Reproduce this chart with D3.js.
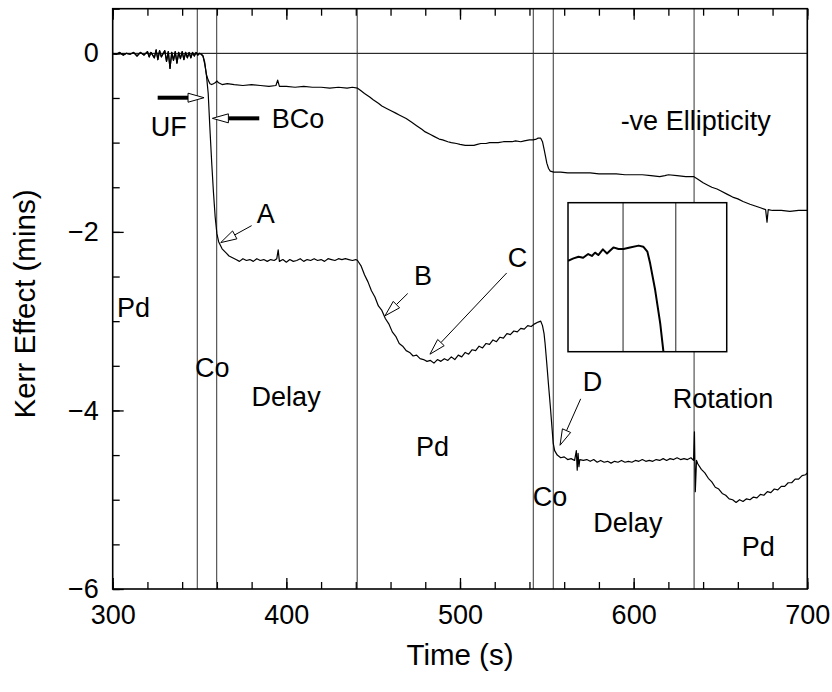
<!DOCTYPE html>
<html>
<head>
<meta charset="utf-8">
<script src="https://cdn.jsdelivr.net/npm/d3@7"></script>
<style>
  body { margin: 0; background: #fff; }
  text { font-family: "Liberation Sans", Arial, Helvetica, sans-serif; }
</style>
</head>
<body>
<script>
// ---- data (time s, Kerr effect mins) ----
var preStep = [[300,0.00],[302,-0.01],[304,0.01],[306,-0.02],[308,0.00],[310,-0.01],[312,0.01],[314,-0.03],
  [316,0.01],[318,-0.02],[320,0.02],[321,-0.04],[322,0.01],[324,-0.05],[325,0.04],[326,-0.07],[327,0.03],
  [328,-0.04],[330,0.03],[331,-0.09],[332,0.02],[333,-0.17],[334,0.01],[335,-0.08],[336,0.02],[337,-0.11],
  [338,0.01],[339,-0.06],[340,0.02],[341,-0.07],[342,0.01],[343,-0.05],[344,0.01],[345,-0.05],[346,0.01],
  [347,-0.03],[348,0.01],[349,-0.02],[350,0.00],[351,-0.01],[352,-0.03]];

var ellipticity = [[353,-0.12],[354,-0.24],[355,-0.30],[356,-0.34],[357,-0.35],[358,-0.34],[359,-0.33],
  [360,-0.31],[361,-0.33],[363,-0.35],[366,-0.34],[370,-0.35],[375,-0.36],[380,-0.35],[385,-0.36],[390,-0.37],
  [394,-0.36],[395,-0.30],[396,-0.37],[400,-0.37],[405,-0.38],[410,-0.37],[415,-0.38],[420,-0.38],[425,-0.39],
  [430,-0.38],[435,-0.39],[438,-0.38],[441,-0.39],[443,-0.42],[445,-0.45],[448,-0.49],[450,-0.52],[453,-0.56],
  [455,-0.59],[458,-0.62],[460,-0.64],[463,-0.67],[465,-0.69],[469,-0.73],[472,-0.77],[475,-0.81],[478,-0.85],
  [480,-0.88],[483,-0.91],[485,-0.93],[488,-0.96],[490,-0.97],[493,-0.99],[495,-1.00],[498,-1.01],[500,-1.02],
  [503,-1.03],[505,-1.03],[508,-1.03],[510,-1.02],[512,-1.01],[515,-1.01],[517,-1.00],[520,-1.00],[522,-1.00],
  [525,-0.99],[527,-0.99],[530,-0.99],[532,-0.98],[535,-0.99],[537,-0.98],[540,-0.97],[542,-0.97],[544,-0.96],
  [545,-0.95],[546.5,-0.95],[547.5,-0.99],[548.5,-1.08],[549.3,-1.16],[550,-1.23],[551,-1.29],[552,-1.32],
  [554,-1.33],[558,-1.33],[562,-1.34],[565,-1.34],[570,-1.34],[575,-1.34],[580,-1.35],[585,-1.35],[590,-1.35],
  [595,-1.36],[600,-1.36],[605,-1.36],[610,-1.37],[615,-1.38],[618,-1.37],[620,-1.36],[625,-1.37],[630,-1.38],
  [634.5,-1.38],[637,-1.41],[640,-1.45],[643,-1.48],[645,-1.50],[648,-1.52],[650,-1.54],[654,-1.58],[657,-1.61],
  [660,-1.63],[663,-1.66],[667,-1.69],[670,-1.71],[673,-1.73],[676,-1.75],[676.8,-1.89],[677.5,-1.75],
  [680,-1.76],[685,-1.76],[690,-1.77],[695,-1.76],[700,-1.76]];

var rotation = [[353,-0.10],[354,-0.25],[355,-0.45],[356,-0.85],[357,-1.22],[358,-1.55],[359,-1.83],
  [360,-2.02],[361,-2.11],[362,-2.15],[363,-2.19],[365,-2.23],[367,-2.27],[369,-2.29],[371,-2.31],[373,-2.33],
  [375,-2.30],[377,-2.32],[379,-2.31],[381,-2.33],[383,-2.30],[385,-2.32],[387,-2.31],[389,-2.33],[391,-2.31],
  [393,-2.32],[394.5,-2.30],[395.3,-2.20],[396,-2.33],[398,-2.31],[400,-2.34],[402,-2.31],[404,-2.33],
  [406,-2.32],[408,-2.30],[410,-2.33],[412,-2.31],[414,-2.32],[416,-2.30],[418,-2.32],[420,-2.31],[422,-2.33],
  [424,-2.30],[426,-2.31],[428,-2.32],[430,-2.30],[432,-2.31],[434,-2.30],[436,-2.31],[438,-2.32],[440,-2.31],
  [441,-2.32],[443,-2.38],[445,-2.48],[447,-2.56],[449,-2.66],[451,-2.73],[453,-2.83],[455,-2.88],[457,-2.97],
  [459,-3.03],[461,-3.12],[463,-3.17],[465,-3.25],[467,-3.28],[469,-3.33],[471,-3.35],[473,-3.39],[475,-3.38],
  [477,-3.42],[479,-3.43],[481,-3.45],[483,-3.44],[485,-3.47],[487,-3.43],[489,-3.45],[491,-3.42],[493,-3.44],
  [495,-3.40],[497,-3.43],[499,-3.38],[501,-3.40],[503,-3.35],[505,-3.37],[507,-3.32],[509,-3.33],[511,-3.28],
  [513,-3.30],[515,-3.25],[517,-3.26],[519,-3.21],[521,-3.23],[523,-3.18],[525,-3.19],[527,-3.14],[529,-3.15],
  [531,-3.11],[533,-3.12],[535,-3.08],[537,-3.09],[539,-3.05],[541,-3.06],[543,-3.03],[545,-3.01],[546.5,-3.00],
  [547.5,-3.05],[548.4,-3.14],[549,-3.25],[550,-3.48],[551,-3.72],[552,-3.95],[553,-4.20],[553.7,-4.37],
  [554.5,-4.45],[556,-4.50],[558,-4.53],[560,-4.52],[562,-4.55],[564,-4.54],[566,-4.56],[567,-4.45],
  [567.5,-4.67],[568,-4.48],[568.5,-4.63],[569,-4.55],[571,-4.56],[573,-4.55],[575,-4.57],[577,-4.55],
  [579,-4.58],[581,-4.56],[583,-4.58],[585,-4.57],[587,-4.59],[589,-4.57],[591,-4.58],[593,-4.56],[595,-4.58],
  [597,-4.57],[599,-4.58],[601,-4.56],[603,-4.57],[605,-4.55],[607,-4.57],[609,-4.56],[611,-4.57],[613,-4.55],
  [615,-4.56],[617,-4.54],[619,-4.56],[621,-4.54],[623,-4.55],[625,-4.53],[627,-4.55],[629,-4.54],[631,-4.55],
  [633,-4.53],[634.5,-4.56],[635,-4.24],[635.5,-4.91],[636.2,-4.56],[637,-4.60],[639,-4.66],[641,-4.70],
  [643,-4.76],[645,-4.80],[647,-4.86],[649,-4.88],[651,-4.93],[653,-4.95],[655,-4.99],[657,-5.00],[659,-5.03],
  [661,-5.00],[663,-5.02],[665,-4.99],[667,-5.00],[669,-4.97],[671,-4.98],[673,-4.94],[675,-4.95],[677,-4.91],
  [679,-4.92],[681,-4.88],[683,-4.89],[685,-4.85],[687,-4.85],[689,-4.81],[691,-4.81],[693,-4.77],[695,-4.77],
  [697,-4.73],[699,-4.72],[700,-4.70]];

// magnified view of the Co step
var insetTrace = [[530.2,-3.105],[531.4,-3.089],[532.5,-3.078],[533.5,-3.085],[534.6,-3.06],[535.4,-3.073],
  [536.1,-3.051],[536.8,-3.067],[537.8,-3.029],[538.7,-3.056],[540.1,-3.016],[541.2,-3.027],[542.3,-3.027],
  [543.7,-3.016],[545.6,-3.004],[546.6,-3.011],[547.5,-3.044],[548.1,-3.122],[549.2,-3.30],[550.3,-3.522],
  [551.0,-3.711],[551.3,-3.80]];

var markerTimes = [348.7, 359.9, 440.8, 542.2, 553.7, 634.8];

var xMajor = [300, 400, 500, 600, 700];
var yMajor = [0, -2, -4, -6];

var labels = [
  {text: "UF", t: 321.9, v: -0.923},
  {text: "BCo", t: 391.6, v: -0.84},
  {text: "A", t: 382.9, v: -1.897},
  {text: "B", t: 473.5, v: -2.595},
  {text: "C", t: 527.5, v: -2.39},
  {text: "D", t: 570.7, v: -3.78},
  {text: "Pd", t: 302.5, v: -2.95},
  {text: "Co", t: 347.4, v: -3.62},
  {text: "Delay", t: 380.0, v: -3.95},
  {text: "Pd", t: 474.7, v: -4.51},
  {text: "Co", t: 541.9, v: -5.07},
  {text: "Delay", t: 576.8, v: -5.36},
  {text: "Rotation", t: 622.5, v: -3.975},
  {text: "Pd", t: 662.2, v: -5.63},
  {text: "-ve Ellipticity", t: 592.5, v: -0.859}
];

var arrows = [
  {from: [325.9, -0.497], to: [352.6, -0.497], heavy: true},
  {from: [384.4, -0.728], to: [357.4, -0.728], heavy: true},
  {from: [380.0, -1.93], to: [362.2, -2.12]},
  {from: [469.9, -2.69], to: [456.8, -2.94]},
  {from: [526.9, -2.46], to: [482.7, -3.37]},
  {from: [569.5, -3.87], to: [557.6, -4.39]}
];

// ---- layout ----
var w = 832, h = 692;
var pLeft = 112.7, pRight = 807.3, pTop = 8.7, pBottom = 589;

var x = d3.scaleLinear().domain([300, 700]).range([pLeft, pRight]);
var y = d3.scaleLinear().domain([-6, 0.5]).range([pBottom, pTop]);

var svg = d3.select("body").append("svg")
  .attr("width", w)
  .attr("height", h);

var defs = svg.append("defs");
defs.append("clipPath").attr("id", "plotclip")
  .append("rect")
  .attr("x", pLeft).attr("y", pTop)
  .attr("width", pRight - pLeft).attr("height", pBottom - pTop);

// axes: ticks inward, majors labelled
function styleAxis(g) {
  g.select(".domain").remove();
  g.selectAll("line").attr("stroke", "#000").attr("stroke-width", 1.3);
  g.selectAll("text").attr("font-size", 27).attr("fill", "#000")
    .attr("font-family", "'Liberation Sans', Arial, sans-serif");
}

var minorX = d3.range(300, 701, 20);
var minorY = d3.range(-6, 0.51, 0.5);

svg.append("g")
  .attr("transform", "translate(0," + pBottom + ")")
  .call(d3.axisBottom(x).tickValues(minorX).tickSize(-7).tickFormat(""))
  .call(styleAxis);
svg.append("g")
  .attr("transform", "translate(0," + pBottom + ")")
  .call(d3.axisBottom(x).tickValues(xMajor).tickSize(-11).tickPadding(16).tickFormat(d3.format("d")))
  .call(styleAxis);
svg.append("g")
  .attr("transform", "translate(0," + pTop + ")")
  .call(d3.axisTop(x).tickValues(minorX).tickSize(-7).tickFormat(""))
  .call(styleAxis);
svg.append("g")
  .attr("transform", "translate(0," + pTop + ")")
  .call(d3.axisTop(x).tickValues(xMajor).tickSize(-11).tickFormat(""))
  .call(styleAxis);
svg.append("g")
  .attr("transform", "translate(" + pLeft + ",0)")
  .call(d3.axisLeft(y).tickValues(minorY).tickSize(-7).tickFormat(""))
  .call(styleAxis);
svg.append("g")
  .attr("transform", "translate(" + pLeft + ",0)")
  .call(d3.axisLeft(y).tickValues(yMajor).tickSize(-11).tickPadding(14).tickFormat(d3.format("d")))
  .call(styleAxis);

var plot = svg.append("g").attr("clip-path", "url(#plotclip)");

// zero line
plot.append("line")
  .attr("x1", pLeft).attr("x2", pRight)
  .attr("y1", y(0)).attr("y2", y(0))
  .attr("stroke", "#000").attr("stroke-width", 1);

// event markers
plot.selectAll(".marker")
  .data(markerTimes)
  .enter().append("line")
  .attr("class", "marker")
  .attr("x1", function(d) { return x(d); })
  .attr("x2", function(d) { return x(d); })
  .attr("y1", pTop).attr("y2", pBottom)
  .attr("stroke", "#333").attr("stroke-width", 1);

var line = d3.line()
  .x(function(d) { return x(d[0]); })
  .y(function(d) { return y(d[1]); });

[preStep.concat(ellipticity), preStep.concat(rotation)].forEach(function(s) {
  plot.append("path")
    .datum(s)
    .attr("d", line)
    .attr("fill", "none")
    .attr("stroke", "#000")
    .attr("stroke-width", 1.2)
    .attr("stroke-linejoin", "round");
});

// inset box
var ix = d3.scaleLinear().domain([530.2, 564.8]).range([x(562.2), x(653.6)]);
var iy = d3.scaleLinear().domain([-3.711, -2.718]).range([y(-3.342), y(-1.673)]);
var bx0 = ix.range()[0], bx1 = ix.range()[1], by0 = iy.range()[1], by1 = iy.range()[0];

defs.append("clipPath").attr("id", "insetclip")
  .append("rect")
  .attr("x", bx0).attr("y", by0)
  .attr("width", bx1 - bx0).attr("height", by1 - by0);

var inset = svg.append("g");
inset.append("rect")
  .attr("x", bx0).attr("y", by0)
  .attr("width", bx1 - bx0).attr("height", by1 - by0)
  .attr("fill", "#fff");
var insetBody = inset.append("g").attr("clip-path", "url(#insetclip)");
insetBody.selectAll("line")
  .data([markerTimes[3], markerTimes[4]])
  .enter().append("line")
  .attr("x1", function(d) { return ix(d); })
  .attr("x2", function(d) { return ix(d); })
  .attr("y1", by0).attr("y2", by1)
  .attr("stroke", "#222").attr("stroke-width", 1);
insetBody.append("path")
  .datum(insetTrace)
  .attr("d", d3.line().x(function(d) { return ix(d[0]); }).y(function(d) { return iy(d[1]); }))
  .attr("fill", "none")
  .attr("stroke", "#000")
  .attr("stroke-width", 2)
  .attr("stroke-linejoin", "round");
inset.append("rect")
  .attr("x", bx0).attr("y", by0)
  .attr("width", bx1 - bx0).attr("height", by1 - by0)
  .attr("fill", "none").attr("stroke", "#000").attr("stroke-width", 1.5);

// frame
svg.append("rect")
  .attr("x", pLeft).attr("y", pTop)
  .attr("width", pRight - pLeft).attr("height", pBottom - pTop)
  .attr("fill", "none").attr("stroke", "#000").attr("stroke-width", 1.6);

// annotation arrows (open heads)
var headLen = 16, headHalf = 4.5;
arrows.forEach(function(a) {
  var x0 = x(a.from[0]), y0 = y(a.from[1]), x1 = x(a.to[0]), y1 = y(a.to[1]);
  var len = Math.sqrt((x1 - x0) * (x1 - x0) + (y1 - y0) * (y1 - y0));
  var ux = (x1 - x0) / len, uy = (y1 - y0) / len;
  var hx = x1 - ux * headLen, hy = y1 - uy * headLen;
  svg.append("line")
    .attr("x1", x0).attr("y1", y0).attr("x2", hx).attr("y2", hy)
    .attr("stroke", "#000").attr("stroke-width", a.heavy ? 4 : 1);
  svg.append("polygon")
    .attr("points", [[x1, y1], [hx - uy * headHalf, hy + ux * headHalf], [hx + uy * headHalf, hy - ux * headHalf]].join(" "))
    .attr("fill", "#fff").attr("stroke", "#000").attr("stroke-width", 1);
});

// labels
svg.selectAll(".note")
  .data(labels)
  .enter().append("text")
  .attr("class", "note")
  .attr("x", function(d) { return x(d.t); })
  .attr("y", function(d) { return y(d.v); })
  .attr("font-size", 27)
  .text(function(d) { return d.text; });

// axis titles
svg.append("text")
  .attr("x", (pLeft + pRight) / 2)
  .attr("y", 665)
  .attr("text-anchor", "middle")
  .attr("font-size", 29.5)
  .text("Time (s)");

svg.append("text")
  .attr("transform", "translate(35,304) rotate(-90)")
  .attr("text-anchor", "middle")
  .attr("font-size", 29.5)
  .text("Kerr Effect (mins)");
</script>
</body>
</html>
